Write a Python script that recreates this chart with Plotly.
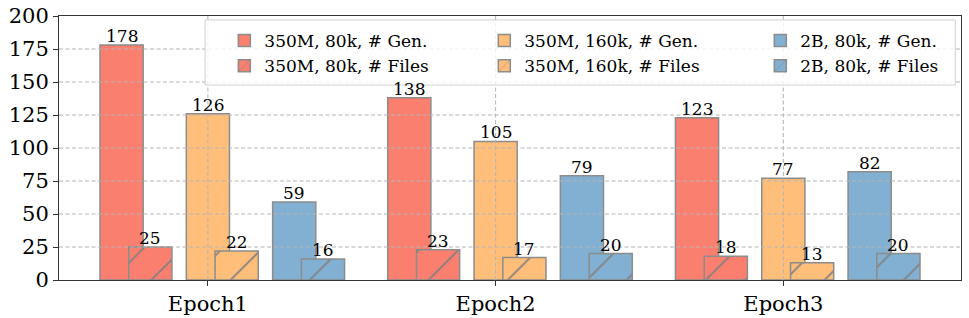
import plotly.graph_objects as go

categories = ["Epoch1", "Epoch2", "Epoch3"]
series_names_gen = ["350M, 80k, # Gen.", "350M, 160k, # Gen.", "2B, 80k, # Gen."]
series_names_files = ["350M, 80k, # Files", "350M, 160k, # Files", "2B, 80k, # Files"]
gen_350m_80k = [178, 138, 123]
gen_350m_160k = [126, 105, 77]
gen_2b_80k = [59, 79, 82]
files_350m_80k = [25, 23, 18]
files_350m_160k = [22, 17, 13]
files_2b_80k = [16, 20, 20]
y_ticks = [0, 25, 50, 75, 100, 125, 150, 175, 200]

gen_values = [gen_350m_80k, gen_350m_160k, gen_2b_80k]
files_values = [files_350m_80k, files_350m_160k, files_2b_80k]
colors = ["#FA7F6F", "#FFBE7A", "#82B0D2"]
offsets = [-0.3, 0.0, 0.3]
files_shift = 0.1
bar_w = 0.15
FONT = "DejaVu Serif, Liberation Serif, serif"
edge = "#8c8c8c"
legend_ids = ["legend", "legend2", "legend3"]
legend_x = [0.1833, 0.4715, 0.7775]

fig = go.Figure()
idx = list(range(len(categories)))

for name, vals, col, off, lg in zip(series_names_gen, gen_values, colors, offsets, legend_ids):
    fig.add_trace(go.Bar(
        x=[i + off for i in idx], y=vals, width=bar_w, name=name, legend=lg,
        marker=dict(color=col, line=dict(color=edge, width=1.5)),
    ))
for name, vals, col, off, lg in zip(series_names_files, files_values, colors, offsets, legend_ids):
    fig.add_trace(go.Bar(
        x=[i + off + files_shift for i in idx], y=vals, width=bar_w, name=name, legend=lg,
        marker=dict(color=col, line=dict(color=edge, width=1.5),
                    pattern=dict(shape="/", size=28, solidity=0.06, fgcolor="#808080",
                                 bgcolor=col, fillmode="replace")),
    ))

annotations = []
for vals, off in zip(gen_values, offsets):
    for i, v in zip(idx, vals):
        annotations.append(dict(x=i + off, y=v, text=str(v), showarrow=False,
                                yanchor="bottom", yshift=-3,
                                font=dict(family=FONT, size=17, color="black")))
for vals, off in zip(files_values, offsets):
    for i, v in zip(idx, vals):
        annotations.append(dict(x=i + off + files_shift, y=v, text=str(v), showarrow=False,
                                yanchor="bottom", yshift=-3,
                                font=dict(family=FONT, size=17, color="black")))

grid = dict(color="#b4b4b4", width=1, dash="4px,2.5px")
shapes = []
for t in y_ticks[1:-1]:
    shapes.append(dict(type="line", xref="paper", x0=0, x1=1, yref="y", y0=t, y1=t,
                       line=grid, layer="above"))
for i in idx:
    shapes.append(dict(type="line", xref="x", x0=i, x1=i, yref="paper", y0=0, y1=1,
                       line=grid, layer="above"))
# legend frame
shapes.append(dict(type="rect", xref="paper", yref="paper", x0=0.162, x1=0.9937,
                   y0=0.7386, y1=0.985, fillcolor="rgba(255,255,255,0.8)",
                   line=dict(color="#d0d0d0", width=1), layer="above"))

legend_common = dict(orientation="v", xanchor="left", yanchor="top", y=0.9735,
                     font=dict(family=FONT, size=17, color="black"),
                     bgcolor="rgba(0,0,0,0)", borderwidth=0, traceorder="normal")

fig.update_layout(
    template="none",
    width=969, height=318, autosize=False,
    margin=dict(l=59, r=8, t=16, b=38, autoexpand=False),
    barmode="overlay",
    plot_bgcolor="white", paper_bgcolor="white",
    font=dict(family=FONT, color="black"),
    annotations=annotations, shapes=shapes,
    showlegend=True,
    legend=dict(x=legend_x[0], **legend_common),
    legend2=dict(x=legend_x[1], **legend_common),
    legend3=dict(x=legend_x[2], **legend_common),
)
fig.update_xaxes(range=[-0.5175, 2.6175], tickvals=idx, ticktext=categories,
                 automargin=False,
                 showgrid=False, zeroline=False, showline=True, linecolor="#333",
                 linewidth=1, mirror=True, ticks="outside", ticklen=5, tickcolor="#333",
                 tickfont=dict(family=FONT, size=21, color="black"))
fig.update_yaxes(range=[0, 200], tickvals=y_ticks, showgrid=False, zeroline=False,
                 automargin=False,
                 showline=True, linecolor="#333", linewidth=1, mirror=True,
                 ticks="outside", ticklen=5, tickcolor="#333",
                 tickfont=dict(family=FONT, size=21, color="black"))

fig.write_html("out.html", config={"displayModeBar": False},
               post_script="document.body.style.margin='0';")
